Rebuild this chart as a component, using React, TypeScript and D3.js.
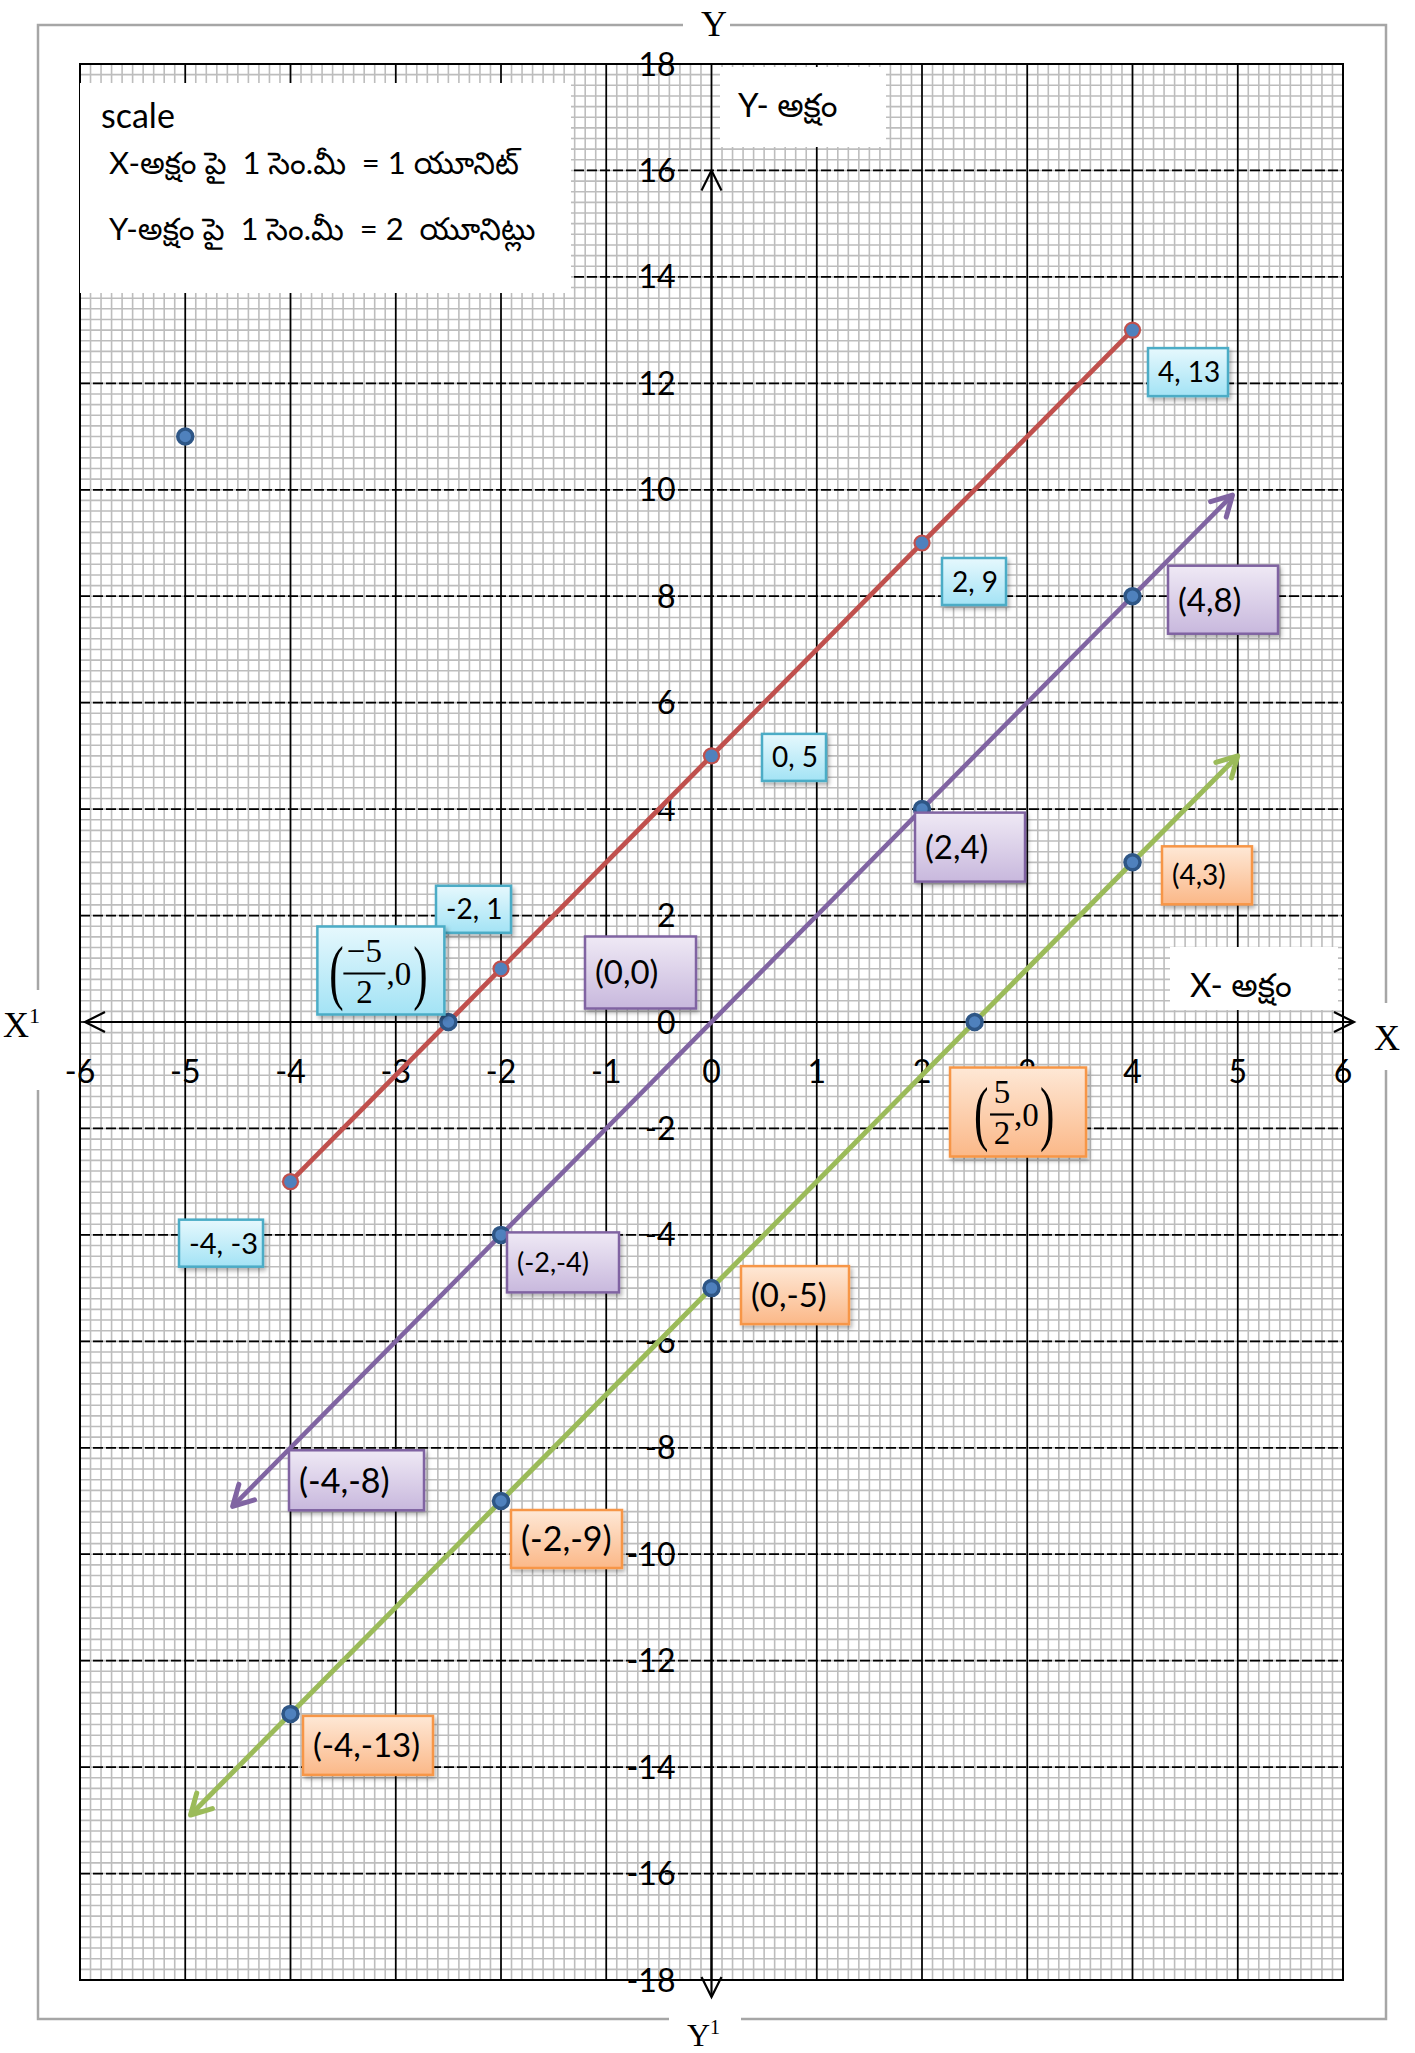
import React from 'react';
import * as d3 from 'd3';

// ---- data ----
const xTickLabels = [-6, -5, -4, -3, -2, -1, 0, 1, 2, 3, 4, 5, 6];
const yTickLabels = [18, 16, 14, 12, 10, 8, 6, 4, 2, 0, -2, -4, -6, -8, -10, -12, -14, -16, -18];

// y = 2x + 5  (red segment)
const redLine = [[-4, -3], [4, 13]];
const redPoints = [[-4, -3], [-2, 1], [0, 5], [2, 9], [4, 13]];
const redLabels = ['-4, -3', '-2, 1', '0, 5', '2, 9', '4, 13'];

// y = 2x  (purple, arrows at both ends)
const purpleLine = [[-4.55, -9.1], [4.95, 9.9]];
const purplePoints = [[-2, -4], [2, 4], [4, 8]];
const purpleLabelAt = [[-4, -8], [-2, -4], [0, 0], [2, 4], [4, 8]];
const purpleLabels = ['(-4,-8)', '(-2,-4)', '(0,0)', '(2,4)', '(4,8)'];

// y = 2x - 5  (green, arrows at both ends)
const greenLine = [[-4.95, -14.9], [5, 5]];
const greenPoints = [[-4, -13], [-2, -9], [0, -5], [2.5, 0], [4, 3]];
const greenLabelAt = [[-4, -13], [-2, -9], [0, -5], [4, 3]];
const greenLabels = ['(-4,-13)', '(-2,-9)', '(0,-5)', '(4,3)'];

// x-intercepts written as fractions
const fracAt = [[-2.5, 0], [2.5, 0]];
const fracNum = ['\u22125', '5'];
const fracDen = ['2', '2'];

const loosePoints = [[-2.5, 0], [-5, 11]];

const scaleLines = ['X-అక్షం పై  1 సెం.మీ  = 1 యూనిట్', 'Y-అక్షం పై  1 సెం.మీ  = 2  యూనిట్లు'];

// ---- layout (label box offsets from their point, px) ----
const redBox = [
  { dx: -111.5, dy: 38, w: 84, h: 47, fs: 29 },
  { dx: -65, dy: -83, w: 75, h: 47, fs: 28 },
  { dx: 50.5, dy: -22, w: 64, h: 47, fs: 28 },
  { dx: 20, dy: 15, w: 64, h: 47, fs: 28 },
  { dx: 15.5, dy: 18, w: 80, h: 48, fs: 28 },
];
const purpleBox = [
  { dx: -1.5, dy: 2.5, w: 135, h: 60, fs: 34 },
  { dx: 6, dy: -2.5, w: 112, h: 60, fs: 27 },
  { dx: -126.5, dy: -85.5, w: 111, h: 72, fs: 33 },
  { dx: -7, dy: 3.5, w: 110, h: 69, fs: 33 },
  { dx: 35.5, dy: -30.5, w: 110, h: 68, fs: 33 },
];
const greenBox = [
  { dx: 12.5, dy: 2, w: 130, h: 59, fs: 33 },
  { dx: 10, dy: 9, w: 111, h: 58, fs: 34 },
  { dx: 29.5, dy: -22, w: 108, h: 58, fs: 33 },
  { dx: 29.5, dy: -16, w: 90, h: 58, fs: 28 },
];
const fracBox = [
  { dx: -131, dy: -95.5, w: 127, h: 88, style: 'cyan' },
  { dx: -24.6, dy: 45.5, w: 136, h: 89, style: 'orange' },
];

const W = 1415, H = 2053;
const plot = { left: 80, right: 1343, top: 64, bottom: 1980 };
const sansFont = "Lato, 'Noto Sans Telugu', 'Noto Sans', sans-serif";
const serifFont = "'Liberation Serif', 'DejaVu Serif', serif";

const boxStyles: Record<string, { id: string; top: string; bottom: string; stroke: string }> = {
  cyan: { id: 'gCyan', top: '#e6f8fd', bottom: '#a3e3f5', stroke: '#4bacc6' },
  purple: { id: 'gPurple', top: '#efe9f5', bottom: '#c8b8dd', stroke: '#8064a2' },
  orange: { id: 'gOrange', top: '#fee8d6', bottom: '#fbb888', stroke: '#f79646' },
};

export default function App() {
  const x = d3.scaleLinear().domain([-6, 6]).range([plot.left, plot.right]);
  const y = d3.scaleLinear().domain([-18, 18]).range([plot.bottom, plot.top]);
  const line = d3.line<number[]>().x(d => x(d[0])).y(d => y(d[1]));

  const minorX = d3.range(-60, 61).map(i => i / 10);
  const minorY = d3.range(-90, 91).map(i => i / 5);

  const box = (key: string, px: number, py: number, b: any, text: string, style: string) => {
    const s = boxStyles[style];
    const bx = px + b.dx, by = py + b.dy;
    return (
      <g key={key}>
        <rect x={bx} y={by} width={b.w} height={b.h} fill={`url(#${s.id})`} stroke={s.stroke}
          strokeWidth={2.5} filter="url(#shadow)" />
        <text x={bx + 10} y={by + b.h / 2 + b.fs * 0.36} fontSize={b.fs} fontFamily={sansFont} fill="#000">{text}</text>
      </g>
    );
  };

  const fracLabel = (i: number) => {
    const b = fracBox[i];
    const s = boxStyles[b.style];
    const bx = x(fracAt[i][0]) + b.dx, by = y(fracAt[i][1]) + b.dy;
    const neg = i === 0;
    const cx = bx + (neg ? 47 : 52);
    const lp = bx + (neg ? 12 : 24);
    const rp = bx + (neg ? 96 : 90);
    const comma = bx + (neg ? 69 : 64);
    const half = neg ? 21 : 12;
    return (
      <g key={'frac' + i}>
        <rect x={bx} y={by} width={b.w} height={b.h} fill={`url(#${s.id})`} stroke={s.stroke}
          strokeWidth={2.5} filter="url(#shadow)" />
        <g fontFamily={serifFont} fill="#000">
          <text x={lp} y={by + 70} fontSize={72} transform={`translate(${lp},0) scale(0.6,1) translate(${-lp},0)`}>(</text>
          <text x={cx} y={by + 35} fontSize={33} textAnchor="middle">{fracNum[i]}</text>
          <line x1={cx - half} x2={cx + half} y1={by + 47} y2={by + 47} stroke="#000" strokeWidth={2.2} />
          <text x={cx} y={by + 76} fontSize={33} textAnchor="middle">{fracDen[i]}</text>
          <text x={comma} y={by + 58} fontSize={33}>,0</text>
          <text x={rp} y={by + 70} fontSize={72} transform={`translate(${rp},0) scale(0.6,1) translate(${-rp},0)`}>)</text>
        </g>
      </g>
    );
  };

  const dot = (key: string, p: number[], ring: string, sw: number) => (
    <circle key={key} cx={x(p[0])} cy={y(p[1])} r={7.5} fill="#4f81bd" stroke={ring} strokeWidth={sw} />
  );

  const x0 = x(0), y0 = y(0);

  return (
    <svg width={W} height={H} style={{ position: 'absolute', left: 0, top: 0, background: '#fff' }}>
      <defs>
        {Object.values(boxStyles).map(s => (
          <linearGradient key={s.id} id={s.id} x1="0" y1="0" x2="0" y2="1">
            <stop offset="0" stopColor={s.top} />
            <stop offset="1" stopColor={s.bottom} />
          </linearGradient>
        ))}
        <filter id="shadow" x="-20%" y="-20%" width="140%" height="150%">
          <feDropShadow dx="2" dy="3" stdDeviation="2" floodColor="#000" floodOpacity="0.3" />
        </filter>
        {[['aPurple', '#8064a2'], ['aGreen', '#9bbb59']].map(([id, c]) => (
          <marker key={id} id={id} markerUnits="userSpaceOnUse" markerWidth={40} markerHeight={40}
            refX={0} refY={0} viewBox="-30 -20 40 40" orient="auto-start-reverse">
            <path d="M-20,-11 L0,0 L-20,11" fill="none" stroke={c} strokeWidth={5} strokeLinecap="round" strokeLinejoin="round" />
          </marker>
        ))}
      </defs>

      <rect x={0} y={0} width={W} height={H} fill="#fff" />

      {/* graph paper */}
      <rect x={plot.left} y={plot.top} width={plot.right - plot.left} height={plot.bottom - plot.top} fill="#fff" />
      <g stroke="#bdbdbd" strokeWidth={1.6}>
        {minorX.map(v => <line key={'mx' + v} x1={x(v)} x2={x(v)} y1={plot.top} y2={plot.bottom} />)}
        {minorY.map(v => <line key={'my' + v} x1={plot.left} x2={plot.right} y1={y(v)} y2={y(v)} />)}
      </g>
      <g stroke="#000" strokeWidth={1.7}>
        {xTickLabels.map(v => <line key={'Mx' + v} x1={x(v)} x2={x(v)} y1={plot.top} y2={plot.bottom} />)}
        {yTickLabels.map(v => <line key={'My' + v} x1={plot.left} x2={plot.right} y1={y(v)} y2={y(v)} strokeDasharray="10,3" />)}
      </g>
      <rect x={plot.left} y={plot.top} width={plot.right - plot.left} height={plot.bottom - plot.top} fill="none" stroke="#000" strokeWidth={2} />

      {/* white text boxes on the paper */}
      <rect x={80} y={83} width={491} height={210} fill="#fff" />
      <g fontFamily={sansFont}>
        <text x={101} y={128} fontSize={34}>scale</text>
        <text x={109} y={174} fontSize={31} xmlSpace="preserve" style={{ whiteSpace: 'pre' }}>{scaleLines[0]}</text>
        <text x={109} y={240} fontSize={31} xmlSpace="preserve" style={{ whiteSpace: 'pre' }}>{scaleLines[1]}</text>
      </g>

      <rect x={720} y={67} width={166} height={80} fill="#fff" />
      <text x={738} y={117} fontSize={33} fontFamily={sansFont}>Y- అక్షం</text>

      <rect x={1170} y={947} width={168} height={63} fill="#fff" />
      <text x={1190} y={997} fontSize={33} fontFamily={sansFont}>X- అక్షం</text>

      {/* axes */}
      <g stroke="#000" strokeWidth={2.2} fill="none">
        <line x1={x(-6) + 5} x2={x(6) + 11} y1={y0} y2={y0} />
        <path d={`M${x(-6) + 25},${y0 - 10} L${x(-6) + 5},${y0} L${x(-6) + 25},${y0 + 10}`} />
        <path d={`M${x(6) - 9},${y0 - 10} L${x(6) + 11},${y0} L${x(6) - 9},${y0 + 10}`} />
        <line x1={x0} x2={x0} y1={y(16)} y2={y(-18) + 17} />
        <path d={`M${x0 - 10},${y(16) + 20} L${x0},${y(16)} L${x0 + 10},${y(16) + 20}`} />
        <path d={`M${x0 - 10},${y(-18) - 3} L${x0},${y(-18) + 17} L${x0 + 10},${y(-18) - 3}`} />
      </g>

      {/* tick labels */}
      <g fontFamily={sansFont} fontSize={32} fill="#000">
        {xTickLabels.map(v => (
          <text key={'tx' + v} x={x(v)} y={y0 + 61} textAnchor="middle">{v}</text>
        ))}
        {yTickLabels.map(v => (
          <text key={'ty' + v} x={x0 - 36} y={y(v) + 11.5} textAnchor="end">{v}</text>
        ))}
      </g>

      {/* lines */}
      <path d={line(redLine as any) as string} stroke="#c0504d" strokeWidth={4.8} fill="none" />
      <path d={line(purpleLine as any) as string} stroke="#8064a2" strokeWidth={4.6} fill="none"
        markerStart="url(#aPurple)" markerEnd="url(#aPurple)" />
      <path d={line(greenLine as any) as string} stroke="#9bbb59" strokeWidth={5} fill="none"
        markerStart="url(#aGreen)" markerEnd="url(#aGreen)" />

      {/* points */}
      {redPoints.map((p, i) => dot('rp' + i, p, '#c0504d', 2.2))}
      {purplePoints.map((p, i) => dot('pp' + i, p, '#2e5686', 3.5))}
      {greenPoints.map((p, i) => dot('gp' + i, p, '#2e5686', 3.5))}
      {loosePoints.map((p, i) => dot('lp' + i, p, '#2e5686', 3.5))}

      {/* labels */}
      {redPoints.map((p, i) => box('rl' + i, x(p[0]), y(p[1]), redBox[i], redLabels[i], 'cyan'))}
      {purpleLabelAt.map((p, i) => box('pl' + i, x(p[0]), y(p[1]), purpleBox[i], purpleLabels[i], 'purple'))}
      {greenLabelAt.map((p, i) => box('gl' + i, x(p[0]), y(p[1]), greenBox[i], greenLabels[i], 'orange'))}
      {fracAt.map((_, i) => fracLabel(i))}

      {/* outer frame */}
      <rect x={38} y={25} width={1348} height={1994} fill="none" stroke="#a6a6a6" strokeWidth={2.5} />
      <rect x={683} y={10} width={47} height={30} fill="#fff" />
      <rect x={1376} y={1003} width={20} height={67} fill="#fff" />
      <rect x={669} y={2005} width={72} height={30} fill="#fff" />
      <rect x={28} y={990} width={20} height={100} fill="#fff" />

      <g fontFamily={serifFont} fill="#000">
        <text x={714} y={36} fontSize={36} textAnchor="middle">Y</text>
        <text x={1387} y={1050} fontSize={36} textAnchor="middle">X</text>
        <text x={3} y={1037} fontSize={36}>X<tspan fontSize={22} dy={-14}>1</tspan></text>
        <text x={687} y={2046} fontSize={32}>Y<tspan fontSize={20} dy={-12}>1</tspan></text>
      </g>
    </svg>
  );
}
